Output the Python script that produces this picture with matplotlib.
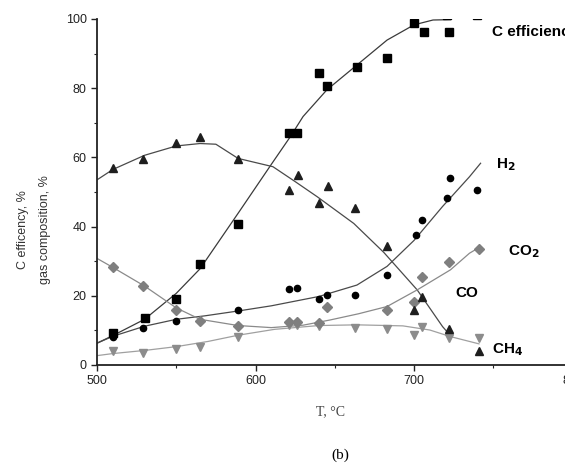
import matplotlib
matplotlib.use('Agg')
import matplotlib.pyplot as plt
from matplotlib.ticker import MultipleLocator

plt.rcParams['font.family'] = ['Liberation Sans', 'DejaVu Sans']

# measured points
ceff_T = [510, 530, 550, 565, 589, 621, 626, 640, 645, 664, 683, 700, 706, 722, 721, 740]
ceff_v = [9.2, 13.7, 19.1, 29.2, 40.8, 67.1, 67.1, 84.4, 80.6, 86.0, 88.7, 98.8, 96.1, 96.1, 101.0, 101.0]

h2_T = [510, 529, 550, 589, 621, 626, 640, 645, 663, 683, 701, 705, 721, 723, 740]
h2_v = [8.2, 10.8, 12.7, 15.9, 21.9, 22.3, 19.0, 20.2, 20.2, 26.0, 37.5, 41.9, 48.4, 54.1, 50.6]

co_T = [510, 529, 550, 565, 589, 621, 627, 640, 646, 663, 683, 700, 705, 722, 741]
co_v = [56.8, 59.4, 64.2, 65.8, 59.4, 50.7, 54.9, 46.7, 51.7, 45.3, 34.5, 15.9, 19.7, 10.3, 3.9]

co2_T = [510, 529, 550, 565, 589, 621, 626, 640, 645, 683, 700, 705, 722, 741]
co2_v = [28.2, 22.8, 15.9, 12.8, 11.4, 12.5, 12.5, 12.0, 16.9, 15.9, 18.3, 25.3, 29.9, 33.5]

ch4_T = [510, 529, 550, 565, 589, 621, 626, 640, 663, 683, 700, 705, 722, 741]
ch4_v = [3.9, 3.4, 4.5, 5.1, 8.2, 11.5, 11.5, 11.3, 10.6, 10.3, 8.7, 10.9, 7.7, 7.7]

# trend curves
ceff_fit_T = [500, 510, 530, 550, 565, 590, 610, 622, 630, 645, 664, 683, 700, 712, 723]
ceff_fit_v = [6.3, 8.5, 13.2, 20.7, 27.8, 44.5, 58.0, 66.0, 71.8, 79.5, 86.7, 93.9, 98.3, 99.7, 99.8]

h2_fit_T = [500, 510, 530, 550, 568, 589, 610, 640, 664, 683, 700, 718, 735, 742]
h2_fit_v = [6.3, 8.3, 11.2, 13.2, 14.2, 15.6, 17.1, 19.8, 23.1, 28.5, 36.0, 45.8, 54.4, 58.3]

co_fit_T = [500, 510, 530, 550, 565, 575, 589, 611, 625, 639, 662, 681, 702, 718, 722]
co_fit_v = [53.5, 56.5, 60.6, 63.3, 64.0, 63.8, 59.7, 57.3, 53.0, 48.6, 40.9, 32.5, 21.7, 11.1, 9.0]

co2_fit_T = [500, 510, 530, 550, 565, 589, 610, 630, 647, 665, 683, 702, 723, 735, 742]
co2_fit_v = [30.8, 28.2, 22.8, 16.5, 13.2, 11.4, 10.8, 11.5, 13.0, 14.8, 16.9, 21.7, 27.5, 32.3, 34.2]

ch4_fit_T = [500, 510, 530, 550, 570, 589, 612, 640, 664, 693, 710, 723, 741]
ch4_fit_v = [2.7, 3.3, 4.2, 5.3, 6.8, 8.6, 10.3, 11.4, 11.6, 11.3, 10.1, 8.2, 6.1]

fig = plt.figure(figsize=(5.65, 4.74), dpi=100)
ax = fig.add_axes([0.1717, 0.230, 0.8416, 0.730])

ax.plot(ceff_fit_T, ceff_fit_v, color='#3a3a3a', lw=0.9)
ax.plot(h2_fit_T, h2_fit_v, color='#4a4a4a', lw=0.9)
ax.plot(co_fit_T, co_fit_v, color='#4a4a4a', lw=0.9)
ax.plot(co2_fit_T, co2_fit_v, color='#8a8a8a', lw=0.9)
ax.plot(ch4_fit_T, ch4_fit_v, color='#a0a0a0', lw=0.9)

ax.plot(ch4_T, ch4_v, 'v', color='#8c8c8c', ms=6, mec='#8c8c8c')
ax.plot(co2_T, co2_v, 'D', color='#7f7f7f', ms=5, mec='#7f7f7f')
ax.plot(co_T, co_v, '^', color='#1e1e1e', ms=6)
ax.plot(h2_T, h2_v, 'o', color='black', ms=4.5)
ax.plot(ceff_T, ceff_v, 's', color='black', ms=5.8)

ax.set_xlim(500, 800)
ax.set_ylim(0, 100)
ax.xaxis.set_major_locator(MultipleLocator(100))
ax.xaxis.set_minor_locator(MultipleLocator(50))
ax.yaxis.set_major_locator(MultipleLocator(20))
ax.yaxis.set_minor_locator(MultipleLocator(10))
ax.spines['top'].set_visible(False)
ax.spines['right'].set_visible(False)
for s in ('left', 'bottom'):
    ax.spines[s].set_linewidth(1.3)
    ax.spines[s].set_color('#222222')
ax.tick_params(which='major', direction='out', length=4, width=1.0, labelsize=9, colors='#222222')
ax.tick_params(which='minor', direction='out', length=2.5, width=0.8, colors='#222222')

lab = dict(fontsize=11, fontweight='bold', va='center', ha='left')
ax.text(749, 96.2, 'C efficiency', **lab)
ax.text(752, 58.0, 'H$_\\mathbf{2}$', **lab)
ax.text(759, 32.7, 'CO$_\\mathbf{2}$', **lab)
ax.text(726, 20.8, 'CO', **lab)
ax.text(749, 4.3, 'CH$_\\mathbf{4}$', **lab)

fig.text(0.040, 0.515, 'C efficency, %', rotation=90, fontsize=9, ha='center', va='center', color='#333333')
fig.text(0.080, 0.515, 'gas composition, %', rotation=90, fontsize=9, ha='center', va='center', color='#333333')

fig.text(330 / 565, 1 - 412 / 474, 'T, °C', family=['Liberation Serif', 'DejaVu Serif'],
         fontsize=10, ha='center', va='center', color='#444444')
fig.text(340 / 565, 1 - 455 / 474, '(b)', family=['Liberation Serif', 'DejaVu Serif'],
         fontsize=11, ha='center', va='center')

fig.savefig('out.png', dpi=100)
